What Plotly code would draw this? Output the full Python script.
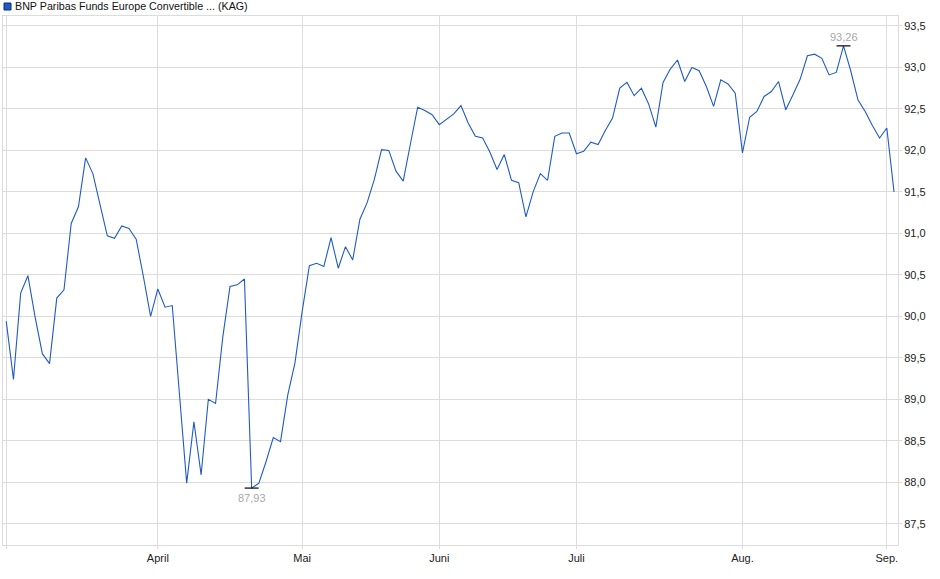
import plotly.graph_objects as go

# Fondskurs (KAG), Handelstage Maerz bis Anfang September
kurs = [
    89.94, 89.24, 90.28, 90.49, 89.99, 89.55, 89.43, 90.22, 90.32, 91.12,
    91.32, 91.91, 91.72, 91.36, 90.97, 90.94, 91.09, 91.06, 90.93, 90.48,
    90.00, 90.33, 90.11, 90.13, 89.10, 87.99, 88.73, 88.09, 89.00, 88.95,
    89.75, 90.36, 90.38, 90.45, 87.93, 87.99, 88.25, 88.54, 88.49, 89.05,
    89.44, 90.06, 90.61, 90.64, 90.60, 90.95, 90.58, 90.84, 90.68, 91.17,
    91.37, 91.65, 92.01, 92.00, 91.75, 91.63, 92.08, 92.52, 92.48, 92.43,
    92.31, 92.38, 92.44, 92.54, 92.33, 92.17, 92.15, 91.98, 91.77, 91.95,
    91.64, 91.61, 91.20, 91.50, 91.72, 91.64, 92.17, 92.21, 92.21, 91.96,
    91.99, 92.10, 92.07, 92.24, 92.39, 92.75, 92.82, 92.66, 92.75, 92.56,
    92.28, 92.82, 92.98, 93.09, 92.83, 93.00, 92.96, 92.77, 92.53, 92.85,
    92.80, 92.69, 91.97, 92.40, 92.47, 92.65, 92.71, 92.83, 92.49, 92.67,
    92.86, 93.14, 93.16, 93.11, 92.91, 92.94, 93.26, 92.96, 92.61, 92.47,
    92.30, 92.15, 92.27, 91.50,
]
tage = list(range(len(kurs)))

# erster Handelstag je Monat (Index in kurs)
monat_pos = [0, 21, 41, 60, 79, 102, 122]
monat_text = ["", "April", "Mai", "Juni", "Juli", "Aug.", "Sep."]

titel = "BNP Paribas Funds Europe Convertible ... (KAG)"

i_min = kurs.index(min(kurs))
i_max = kurs.index(max(kurs))

def fmt(v):
    return f"{v:.2f}".replace(".", ",")

fig = go.Figure()
fig.add_trace(go.Scatter(x=tage, y=kurs, mode="lines",
                         line=dict(color="#1f5bc6", width=1.1),
                         hoverinfo="skip"))
# kleine Striche an Hoch/Tief
fig.add_trace(go.Scatter(x=[i_min, i_max], y=[kurs[i_min], kurs[i_max]],
                         mode="markers",
                         marker=dict(symbol="line-ew", size=10,
                                     line=dict(color="black", width=1.2)),
                         hoverinfo="skip"))

fig.add_annotation(x=i_min, y=kurs[i_min], text=fmt(kurs[i_min]),
                   showarrow=False, yanchor="top", yshift=-2,
                   font=dict(size=11, color="#a8a8a8"))
fig.add_annotation(x=i_max, y=kurs[i_max], text=fmt(kurs[i_max]),
                   showarrow=False, yanchor="bottom", yshift=1,
                   font=dict(size=11, color="#a8a8a8"))

# Legendenkaestchen + Titel oben links
fig.add_shape(type="rect", xref="paper", yref="paper",
              xsizemode="pixel", ysizemode="pixel",
              xanchor=0, yanchor=1, x0=1, x1=8, y0=6, y1=13,
              fillcolor="#1f5bc6", line=dict(color="#0c2a70", width=1))
fig.add_annotation(xref="paper", yref="paper", x=0, y=1, xshift=10, yshift=10,
                   text=titel, showarrow=False, xanchor="left", yanchor="middle",
                   font=dict(size=10.7, color="#111111"))

fig.update_layout(
    width=940, height=579,
    margin=dict(l=3, r=42, t=16, b=34),
    paper_bgcolor="white", plot_bgcolor="white",
    showlegend=False,
    separators=",.",
    font=dict(family="Arial, Liberation Sans, sans-serif", size=11, color="#222222"),
    xaxis=dict(range=[-0.45, 123.55], tickvals=monat_pos, ticktext=monat_text,
               showgrid=True, gridcolor="#dcdcdc", gridwidth=1,
               ticks="outside", ticklen=3, tickcolor="#dcdcdc",
               showline=True, linecolor="#dcdcdc", mirror=True, zeroline=False),
    yaxis=dict(range=[87.244, 93.62], side="right", dtick=0.5, tick0=87.5,
               tickformat=".1f",
               showgrid=True, gridcolor="#dcdcdc", gridwidth=1,
               ticks="outside", ticklen=3, tickcolor="#dcdcdc",
               showline=True, linecolor="#dcdcdc", mirror=True, zeroline=False),
)

# Seitenrand des Browsers entfernen, keine Werkzeugleiste
fig.write_html("out.html", config={"displayModeBar": False},
               post_script="document.body.style.margin='0';")
